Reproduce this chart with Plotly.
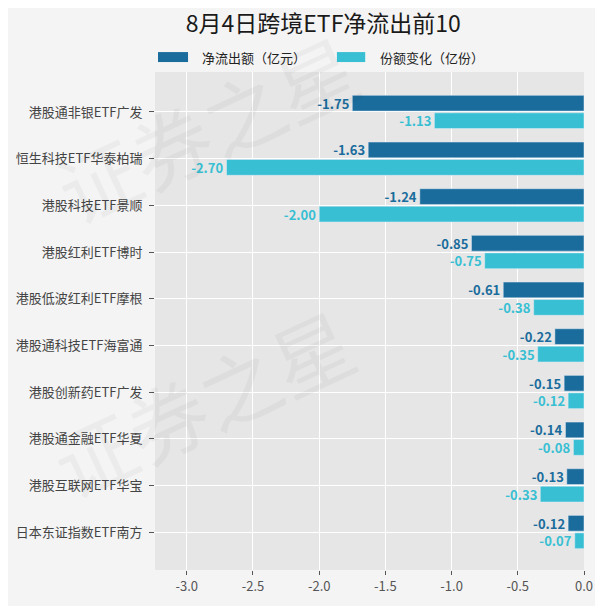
import plotly.graph_objects as go

funds = ['港股通非银ETF广发', '恒生科技ETF华泰柏瑞', '港股科技ETF景顺', '港股红利ETF博时',
         '港股低波红利ETF摩根', '港股通科技ETF海富通', '港股创新药ETF广发', '港股通金融ETF华夏',
         '港股互联网ETF华宝', '日本东证指数ETF南方']
net_outflow = [-1.75, -1.63, -1.24, -0.85, -0.61, -0.22, -0.15, -0.14, -0.13, -0.12]
share_change = [-1.13, -2.70, -2.00, -0.75, -0.38, -0.35, -0.12, -0.08, -0.33, -0.07]
x_ticks = [-3.0, -2.5, -2.0, -1.5, -1.0, -0.5, 0.0]
series_names = ['净流出额（亿元）', '份额变化（亿份）']

dark = '#1A6C9C'
light = '#38BFD3'
font = 'Noto Sans CJK SC'
pos = list(range(len(funds)))

fig = go.Figure()
fig.add_trace(go.Bar(y=pos, x=net_outflow, orientation='h', name=series_names[0],
                     marker_color=dark, text=['%.2f' % v for v in net_outflow],
                     textposition='outside', cliponaxis=False, constraintext='none',
                     textfont=dict(color=dark, size=13, family=font, weight='bold')))
fig.add_trace(go.Bar(y=pos, x=share_change, orientation='h', name=series_names[1],
                     marker_color=light, text=['%.2f' % v for v in share_change],
                     textposition='outside', cliponaxis=False, constraintext='none',
                     textfont=dict(color=light, size=13, family=font, weight='bold')))

# faint watermark
for wx, wy in [(0.12, 0.89), (0.11, 0.34)]:
    fig.add_annotation(text='证券之星', xref='paper', yref='paper', x=wx, y=wy,
                       xanchor='center', yanchor='middle',
                       showarrow=False, textangle=-25, opacity=0.03,
                       font=dict(size=80, color='#000000', family=font))

# legend drawn by hand (wide swatches)
legend_items = [(0.007, 0.077, 0.105, dark), (0.424, 0.49, 0.52, light)]
for (x0, x1, tx, col), label in zip(legend_items, series_names):
    fig.add_shape(type='rect', xref='paper', yref='paper', x0=x0, x1=x1, y0=1.020, y1=1.040,
                  fillcolor=col, line_width=0)
    fig.add_annotation(text=label, xref='paper', yref='paper', x=tx, y=1.030,
                       xanchor='left', yanchor='middle', showarrow=False,
                       font=dict(size=13, color='#222222', family=font))

fig.update_layout(
    width=595, height=598,
    paper_bgcolor='#F4F4F4', plot_bgcolor='#E6E6E6',
    margin=dict(l=147, r=19, t=64, b=36),
    barmode='group', bargap=0.25, bargroupgap=0.1,
    showlegend=False,
    font=dict(family=font, color='#444444'),
    title=dict(text='8月4日跨境ETF净流出前10', x=0.53, xanchor='center', y=0.973,
               yanchor='middle', font=dict(size=23, color='#1A1A1A', family=font)),
    xaxis=dict(range=[-3.24, 0], tickvals=x_ticks, ticktext=['%.1f' % t for t in x_ticks],
               showgrid=True, gridcolor='white', gridwidth=1.2, zeroline=False,
               ticks='outside', ticklen=4, tickcolor='#555555', automargin=False,
               tickfont=dict(size=13, color='#555555')),
    yaxis=dict(range=[9.814, -0.857], tickvals=pos, ticktext=funds,
               showgrid=True, gridcolor='white', gridwidth=1.2, zeroline=False,
               ticks='outside', ticklen=5, tickcolor='#555555', automargin=False,
               ticklabelstandoff=4,
               tickfont=dict(size=13, color='#444444')),
)

fig.write_html('out.html')
